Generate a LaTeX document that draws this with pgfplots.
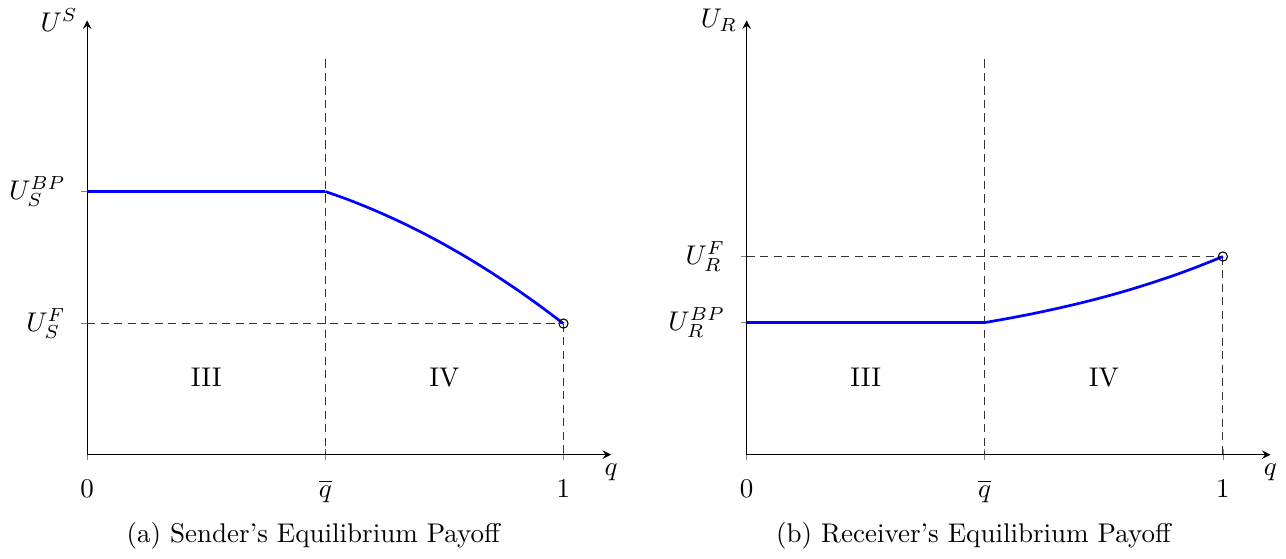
\documentclass[border=0pt]{standalone}
\usepackage{pgfplots}
\pgfplotsset{compat=1.18}
\begin{document}
\begin{tikzpicture}
\pgfplotsset{
  payoff/.style={
    x=176.3pt, y=37.04pt,
    xmin=0, xmax=1.1, ymin=0, ymax=4.34,
    axis lines=left,
    axis line style={-stealth},
    tick align=center,
    xtick={0,0.5,1},
    xticklabels={$0$,$\overline{q}$,$1$},
    xticklabel style={yshift=-3.8pt},
    yticklabel style={xshift=-2.3pt},
    clip=false,
    xlabel={$q$},
    every axis x label/.style={at={(axis cs:1.1,0)},anchor=north},
    every axis y label/.style={at={(axis cs:0,4.34)},anchor=east},
  },
  refline/.style={black!80, dash pattern=on 3pt off 2pt, forget plot},
  eq/.style={blue, line width=1pt, no marks},
}

% (a) sender
\begin{axis}[payoff, at={(0pt,0pt)}, anchor=origin,
    ylabel={$U^S$},
    ytick={1.31,2.63},
    yticklabels={$U_S^F$,$U_S^{BP}$}]
  \addplot[refline] coordinates {(0.5,3.95) (0.5,0)};
  \addplot[refline] coordinates {(0,1.31) (1,1.31)};
  \addplot[refline] coordinates {(1,1.31) (1,0)};
  \addplot[eq] coordinates {(0,2.63) (0.5,2.63)};
  \addplot[eq, smooth] coordinates {
    (0.5,2.63) (0.55,2.545) (0.6,2.449) (0.65,2.343) (0.7,2.227)
    (0.75,2.10) (0.8,1.963) (0.85,1.815) (0.9,1.657) (0.95,1.489) (1,1.31)};
  \addplot[only marks, mark=o, mark size=1.7pt, black] coordinates {(1,1.31)};
  \node at (axis cs:0.25,0.77) {III};
  \node at (axis cs:0.75,0.77) {IV};
\end{axis}
\node[anchor=base] at (83.7pt,-32.6pt) {(a) Sender's Equilibrium Payoff};

% (b) receiver
\begin{axis}[payoff, at={(244.1pt,0pt)}, anchor=origin,
    ylabel={$U_R$},
    ytick={1.32,1.98},
    yticklabels={$U_R^{BP}$,$U_R^F$}]
  \addplot[refline] coordinates {(0.5,3.95) (0.5,0)};
  \addplot[refline] coordinates {(0,1.98) (1,1.98)};
  \addplot[refline] coordinates {(1,1.98) (1,0)};
  \addplot[eq] coordinates {(0,1.32) (0.5,1.32)};
  \addplot[eq, smooth] coordinates {
    (0.5,1.32) (0.55,1.362) (0.6,1.408) (0.65,1.459) (0.7,1.514)
    (0.75,1.575) (0.8,1.642) (0.85,1.716) (0.9,1.796) (0.95,1.884) (1,1.98)};
  \addplot[only marks, mark=o, mark size=1.7pt, black] coordinates {(1,1.98)};
  \node at (axis cs:0.25,0.77) {III};
  \node at (axis cs:0.75,0.77) {IV};
\end{axis}
\node[anchor=base] at (328.1pt,-32.6pt) {(b) Receiver's Equilibrium Payoff};
\end{tikzpicture}
\end{document}
